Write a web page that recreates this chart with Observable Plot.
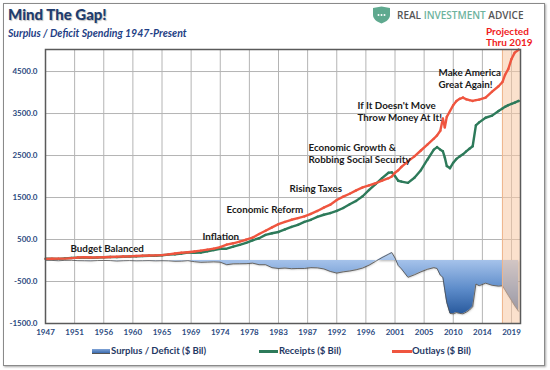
<!DOCTYPE html>
<html><head><meta charset="utf-8">
<script src="https://cdn.jsdelivr.net/npm/d3@7"></script>
<script src="https://cdn.jsdelivr.net/npm/@observablehq/plot@0.6"></script>
<style>
html,body{margin:0;padding:0;background:#fff;}
#wrap{position:relative;width:550px;height:370px;overflow:hidden;font-family:Lato,"Open Sans",sans-serif;}
#border{position:absolute;left:3px;top:3px;width:540px;height:361px;border:1px solid #8a8a8a;box-shadow:1px 1px 2px rgba(0,0,0,0.35);}
#chart{position:absolute;left:0;top:0;}
.t{position:absolute;white-space:nowrap;}
#title{left:8px;top:7px;font-size:15px;line-height:15px;font-weight:900;color:#203c6e;text-shadow:1px 1px 1px rgba(0,0,0,0.25);}
#subtitle{left:8px;top:27px;font-size:10.5px;line-height:12px;font-weight:700;font-style:italic;color:#1f3f86;}
#logo{left:372px;top:6px;}
#brand{left:397px;top:9px;font-family:"Open Sans",sans-serif;font-size:10px;line-height:12px;font-weight:600;color:#555;}
#brand span{color:#6db39d;}
#proj{left:486px;top:26px;font-size:10px;line-height:11px;font-weight:700;color:#f01c1c;}
.lg{top:345px;font-size:9.5px;line-height:12px;font-weight:700;color:#1f3864;}
.sw{position:absolute;}
</style></head><body>
<div id="wrap">
  <div id="border"></div>
  <div id="chart"></div>
  <div class="t" id="title">Mind The Gap!</div>
  <div class="t" id="subtitle">Surplus / Deficit Spending 1947-Present</div>
  <svg class="t" id="logo" width="19" height="18" viewBox="0 0 19 18"><path d="M1,2 L9.5,0.5 L18,2 L18,9 C18,13 14,16 9.5,17.5 C5,16 1,13 1,9 Z" fill="#5fa98f"/><circle cx="6.5" cy="9" r="1" fill="#fff"/><circle cx="9.5" cy="9" r="1" fill="#fff"/><circle cx="12.5" cy="9" r="1" fill="#fff"/></svg>
  <div class="t" id="brand">REAL <span>INVESTMENT</span> ADVICE</div>
  <div class="t" id="proj">Projected<br>Thru 2019</div>
  <div class="sw" style="left:92px;top:349px;width:18px;height:4px;background:linear-gradient(#7fa3d6,#3c6db0);border-bottom:1px solid #555;"></div>
  <div class="t lg" style="left:111px;">Surplus / Deficit ($ Bil)</div>
  <div class="sw" style="left:259px;top:350px;width:19px;height:3px;background:#2d7a5a;"></div>
  <div class="t lg" style="left:279px;">Receipts ($ Bil)</div>
  <div class="sw" style="left:392px;top:350px;width:20px;height:3px;background:#ef553f;"></div>
  <div class="t lg" style="left:412px;">Outlays ($ Bil)</div>
</div>
<script>
const years = [1947,1948,1949,1950,1951,1952,1953,1954,1955,1956,
  1957,1958,1959,1960,1961,1962,1963,1964,1965,1966,
  1967,1968,1969,1970,1971,1972,1973,1974,1975,1976,
  1977,1978,1979,1980,1981,1982,1983,1984,1985,1986,
  1987,1988,1989,1990,1991,1992,1993,1994,1995,1996,
  1997,1998,1999,2000,
  2000.5,2001,2001.5,2002,2003,2004,2005,2006,2007,2007.5,
  2008,2008.4,2008.7,2009,2009.5,2010,2010.5,2011,2011.5,2012,
  2012.5,2013,2013.5,2014,2015,2016,2017,2017.6,2018,2018.5,
  2019,2019.5,2020.1];
const outlays = [40,42,46,46,56,70,76,73,74,78,
  84,93,96,99,106,113,118,123,129,147,
  166,184,196,214,235,258,282,320,380,410,
  450,495,545,630,710,790,865,920,970,1010,
  1050,1110,1180,1260,1330,1440,1520,1590,1670,1740,
  1790,1840,1900,1960,
  2000,2090,2150,2230,2360,2480,2620,2760,2900,2980,
  3090,3380,3170,3420,3560,3700,3800,3850,3880,3840,
  3820,3800,3820,3830,3880,4020,4150,4250,4420,4560,
  4800,4950,5020];
const receipts = [44,44,40,50,62,66,70,64,72,79,
  82,80,90,97,98,107,115,114,124,139,
  147,168,192,186,192,220,250,281,281,330,
  372,420,482,530,610,650,680,740,800,850,
  920,970,1040,1090,1130,1180,1250,1340,1420,1530,
  1680,1820,1960,2090,
  2100,2010,1900,1880,1850,1970,2150,2400,2640,2700,
  2640,2600,2450,2250,2200,2330,2420,2480,2530,2600,
  2660,2720,3220,3290,3400,3450,3560,3620,3660,3700,
  3730,3760,3800];
const deficit = [4,2,-6,4,6,-4,-6,-9,-2,1,
  -2,-13,-6,-2,-8,-6,-3,-9,-5,-8,
  -19,-16,-4,-28,-43,-38,-32,-39,-100,-80,
  -78,-75,-63,-100,-100,-170,-190,-180,-195,-190,
  -190,-170,-175,-200,-260,-300,-270,-250,-220,-180,
  -110,-20,70,150,
  190,60,-120,-200,-400,-340,-270,-210,-170,-190,
  -350,-400,-710,-1000,-1260,-1270,-1240,-1260,-1270,-1230,
  -1180,-1100,-560,-600,-540,-590,-610,-600,-700,-830,
  -950,-1080,-1210];

const xTickPos = [1947,1951.5,1956,1960.5,1965,1969.5,1974,1978.5,1983,1987.5,1992,1996.5,2001,2005.5,2010,2014.5,2019];
const xTickLabels = ["1947","1951","1956","1960","1965","1969","1974","1978","1983","1987","1992","1996","2001","2005","2010","2014","2019"];
const yTicks = [-1500,-500,500,1500,2500,3500,4500];
const xDomain = [1947, 2020.39];
const yDomain = [-1500, 5025];
const projection = [{start: 2017.6, end: 2020.39}];

const notes = [
  {year:1950.86, value:286, text:"Budget Balanced"},
  {year:1971.26, value:571, text:"Inflation"},
  {year:1974.97, value:1214, text:"Economic Reform"},
  {year:1984.70, value:1714, text:"Rising Taxes"},
  {year:1987.64, value:2548, text:"Economic Growth &\nRobbing Social Security"},
  {year:1995.21, value:3560, text:"If It Doesn't Move\nThrow Money At It!"},
  {year:2007.72, value:4333, text:"Make America\nGreat Again!"}
];

const data = years.map((y,i)=>({year:y, outlays:outlays[i], receipts:receipts[i], deficit:deficit[i]}));

const svg = Plot.plot({
  width: 550, height: 370,
  marginLeft: 45, marginRight: 30, marginTop: 49, marginBottom: 47,
  style: {fontFamily: "Lato, 'Open Sans', sans-serif", background: "transparent"},
  x: {type: "linear", domain: xDomain},
  y: {domain: yDomain},
  marks: [
    Plot.gridX(xTickPos, {stroke: "#b4b4b4", strokeOpacity: 1}),
    Plot.gridY(yTicks, {stroke: "#b4b4b4", strokeOpacity: 1}),
    Plot.areaY(data, {x: "year", y1: 0, y2: "deficit", fill: "#6f98d0", fillOpacity: 1}),
    Plot.line(data, {x: "year", y: "deficit", stroke: "#4a4a4a", strokeWidth: 0.8}),
    Plot.rect(projection, {x1: "start", x2: "end", y1: () => yDomain[0], y2: () => yDomain[1], fill: "#f8c8a4", fillOpacity: 0.55}),
    Plot.ruleX(projection, {x: "start", stroke: "#efb48c", strokeWidth: 1}),
    Plot.line(data, {x: "year", y: "receipts", stroke: "#2d7a5a", strokeWidth: 2.4, ariaLabel: "receipts"}),
    Plot.line(data, {x: "year", y: "outlays", stroke: "#ef553f", strokeWidth: 2.4, ariaLabel: "outlays"}),
    Plot.text(notes, {x: "year", y: "value", text: "text", textAnchor: "start", lineHeight: 1.2, fontSize: 9.8, fontWeight: "bold", fill: "#1a1a1a"}),
    Plot.axisX({ticks: xTickPos, tickFormat: d => xTickLabels[xTickPos.indexOf(d)], tickSize: 0, tickPadding: 6, fontSize: 8, fontWeight: "bold", color: "#2b4a80", label: null}),
    Plot.axisY({ticks: yTicks, tickFormat: d => d.toFixed(1), tickSize: 0, tickPadding: 8, fontSize: 8, fontWeight: "bold", color: "#2b4a80", label: null}),
    Plot.frame({stroke: "#5a5a5a", strokeWidth: 1.5})
  ]
});

const s = d3.select(svg);
s.insert("defs", ":first-child").html(
  '<linearGradient id="defGrad" x1="0" y1="0" x2="0" y2="1">' +
  '<stop offset="0" stop-color="#bcd3f0"/><stop offset="0.15" stop-color="#a2c0e9"/>' +
  '<stop offset="0.6" stop-color="#5d8cca"/><stop offset="1" stop-color="#2a5b9e"/></linearGradient>');
const areaG = s.selectAll("g").filter(function(){ return (this.getAttribute("aria-label")||"") === "area"; });
areaG.selectAll("path").attr("fill", "url(#defGrad)");
areaG.style("filter", "drop-shadow(1px 1.5px 1px rgba(0,0,0,0.3))");
s.selectAll('g[aria-label="receipts"], g[aria-label="outlays"]')
  .style("filter", "drop-shadow(1.2px 1.5px 1px rgba(0,0,0,0.35))");
document.getElementById("chart").appendChild(svg);
</script>
</body></html>
